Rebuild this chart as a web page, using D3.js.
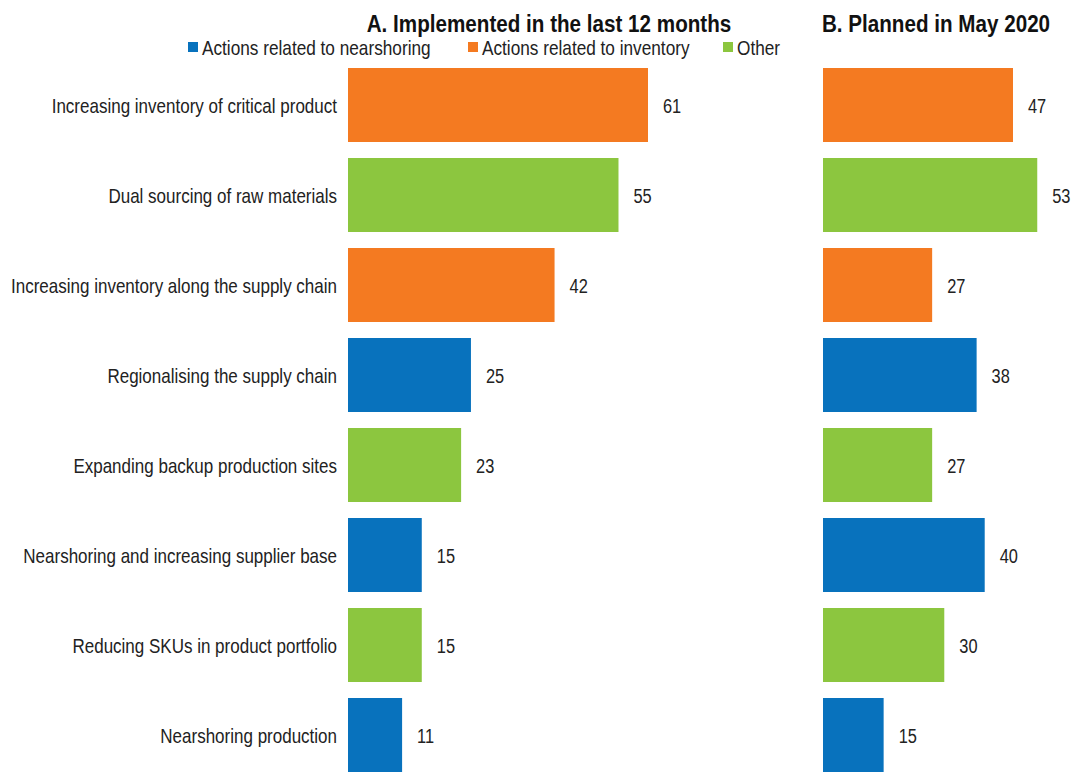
<!DOCTYPE html>
<html>
<head>
<meta charset="utf-8">
<script src="https://cdn.jsdelivr.net/npm/d3@7"></script>
<style>
  html, body { margin: 0; padding: 0; background: #fff; }
  svg { display: block; font-family: "Liberation Sans", Arial, sans-serif; }
</style>
</head>
<body>
<svg id="chart" width="1077" height="774"></svg>
<script>
// Supply-chain resilience actions, share of respondents (%)
const categories = [
  "Increasing inventory of critical product",
  "Dual sourcing of raw materials",
  "Increasing inventory along the supply chain",
  "Regionalising the supply chain",
  "Expanding backup production sites",
  "Nearshoring and increasing supplier base",
  "Reducing SKUs in product portfolio",
  "Nearshoring production"
];
const groups = ["inventory", "other", "inventory", "nearshoring", "other", "nearshoring", "other", "nearshoring"];
const implemented = [61, 55, 42, 25, 23, 15, 15, 11];
const planned = [47, 53, 27, 38, 27, 40, 30, 15];

const legendKeys = ["nearshoring", "inventory", "other"];
const legendLabels = ["Actions related to nearshoring", "Actions related to inventory", "Other"];
const colorValues = ["#0872bd", "#f47a21", "#8cc63f"];

const color = d3.scaleOrdinal().domain(legendKeys).range(colorValues);

const svg = d3.select("#chart");
const textColor = "#222";

// condensed text: regular face squeezed horizontally around its anchor
const NARROW = 0.82;
function narrowText(sel, x, y, sx) {
  return sel.attr("transform", (d, i) => `translate(${x(d, i)},${y(d, i)}) scale(${sx},1)`);
}

// shared vertical band scale for both panels
const y = d3.scaleBand()
  .domain(categories)
  .range([68, 772])
  .paddingInner(16 / 90)
  .paddingOuter(0);
const yMid = d => y(d) + y.bandwidth() / 2;

// panel scales
const xA = d3.scaleLinear().domain([0, 61]).range([348, 648]);
const xB = d3.scaleLinear().domain([0, 47]).range([823, 1013]);

function panel(values, x, title, titleX) {
  const g = svg.append("g");
  narrowText(g.append("text"), () => titleX, () => 32, 0.86)
    .attr("text-anchor", "middle")
    .attr("font-weight", "bold")
    .attr("font-size", 24)
    .attr("fill", "#111")
    .text(title);

  g.selectAll("rect.bar")
    .data(categories)
    .join("rect")
    .attr("class", "bar")
    .attr("x", x(0))
    .attr("y", d => y(d))
    .attr("width", (d, i) => x(values[i]) - x(0))
    .attr("height", y.bandwidth())
    .attr("fill", (d, i) => color(groups[i]));

  narrowText(
    g.selectAll("text.val").data(categories).join("text").attr("class", "val"),
    (d, i) => x(values[i]) + 15, d => yMid(d), 0.78)
    .attr("dy", "0.37em")
    .attr("font-size", 21)
    .attr("fill", textColor)
    .text((d, i) => values[i]);
}

panel(implemented, xA, "A. Implemented in the last 12 months", 549);
panel(planned, xB, "B. Planned in May 2020", 936);

// category labels
narrowText(
  svg.append("g").selectAll("text").data(categories).join("text"),
  () => 337, d => yMid(d), 0.81)
  .attr("dy", "0.37em")
  .attr("text-anchor", "end")
  .attr("font-size", 21)
  .attr("fill", textColor)
  .text(d => d);

// legend
const legendX = [188, 468, 723];
const lg = svg.append("g").selectAll("g")
  .data(legendKeys)
  .join("g")
  .attr("transform", (d, i) => `translate(${legendX[i]},42)`);
lg.append("rect").attr("width", 10).attr("height", 10).attr("fill", d => color(d));
narrowText(lg.append("text"), () => 14, () => 5, NARROW)
  .attr("dy", "0.37em")
  .attr("font-size", 21)
  .attr("fill", textColor)
  .text((d, i) => legendLabels[i]);
</script>
</body>
</html>
